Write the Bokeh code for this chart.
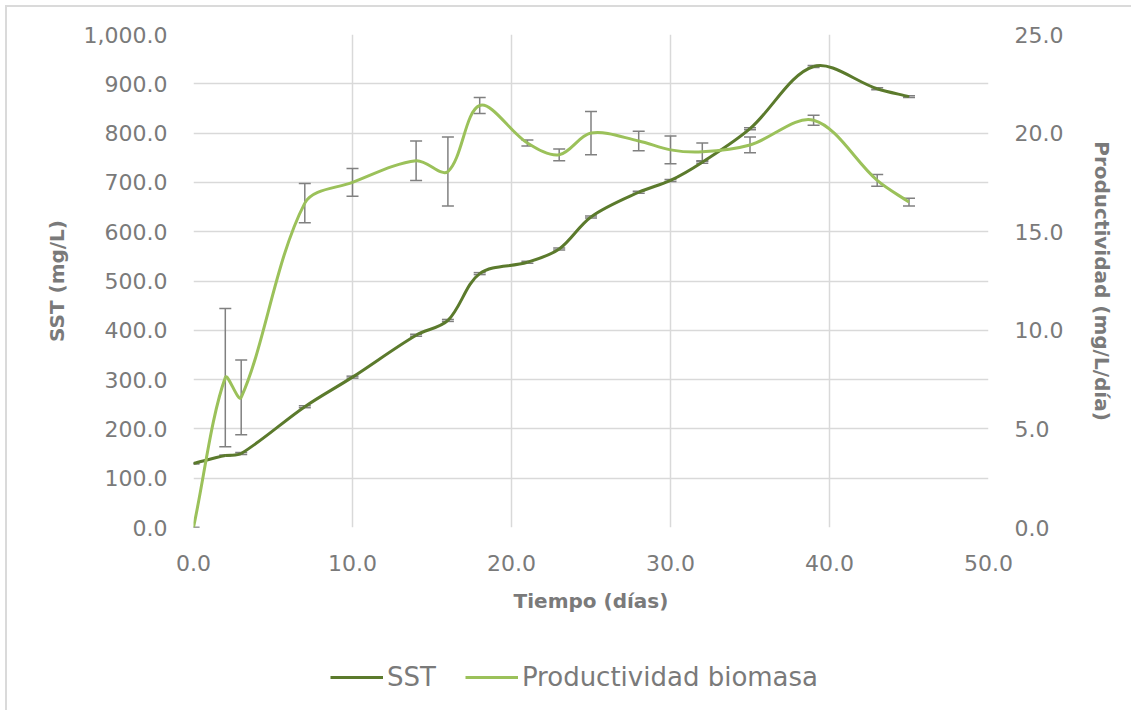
from bokeh.plotting import figure
from bokeh.layouts import column
from bokeh.models import (Range1d, LinearAxis, FixedTicker, NumeralTickFormatter,
                          ColumnDataSource, Whisker, TeeHead, Legend, LegendItem)
from bokeh.embed import file_html
from bokeh.resources import INLINE
import math

# ---- data ----
days = [0, 2, 3, 7, 10, 14, 16, 18, 21, 23, 25, 28, 30, 32, 35, 39, 43, 45]
sst = [130, 146, 150, 245, 305, 390, 420, 515, 538, 565, 630, 680, 704, 741, 809, 935, 890, 874]
sst_err = [1, 1, 2, 2, 2, 2, 2, 2, 2, 2, 2, 2, 2, 2, 2, 2, 2, 2]
prod = [0.0, 7.6, 6.6, 16.45, 17.5, 18.6, 18.05, 21.4, 19.5, 18.9, 20.0, 19.6, 19.15, 19.05, 19.4, 20.65, 17.6, 16.5]
prod_err = [0.0, 3.5, 1.9, 1.0, 0.7, 1.0, 1.75, 0.4, 0.15, 0.3, 1.1, 0.5, 0.7, 0.45, 0.4, 0.25, 0.3, 0.2]
series_names = ["SST", "Productividad biomasa"]

x_ticks = [0, 10, 20, 30, 40, 50]
y_ticks = [0, 100, 200, 300, 400, 500, 600, 700, 800, 900, 1000]
y2_ticks = [0, 5, 10, 15, 20, 25]

DARK = "#5b7a2c"
LIGHT = "#9bc15a"
TXT = "#7a7a7a"
GRID = "#d9d9d9"
ERR = "#808080"
FONT = "DejaVu Sans"

OFF = 7                     # chart border offset (5px margin + 2px border)
W = 1124
H1, H2 = 633, 70
FL, FR, FT, FB = 193 - OFF, 988 - OFF, 34 - OFF, 527 - OFF   # frame edges in figure px


def smooth(xs, ys, ymax):
    """Excel-like smoothed line: chord-length scaled cubic Bezier through the points."""
    kx = (FR - FL) / 50.0
    ky = (FB - FT) / ymax
    n = len(xs)
    P = [(x * kx, y * ky) for x, y in zip(xs, ys)]

    def dist(a, b):
        return math.hypot(P[a][0] - P[b][0], P[a][1] - P[b][1]) or 1e-9

    def tangent(i):
        a = max(i - 1, 0)
        b = min(i + 1, n - 1)
        d = dist(a, i) + dist(i, b)
        return ((P[b][0] - P[a][0]) / d, (P[b][1] - P[a][1]) / d)

    out = dict(x0=[], y0=[], x1=[], y1=[], cx0=[], cy0=[], cx1=[], cy1=[])
    for i in range(n - 1):
        seg = dist(i, i + 1)
        t0 = tangent(i)
        t1 = tangent(i + 1)
        out["x0"].append(xs[i]); out["y0"].append(ys[i])
        out["x1"].append(xs[i + 1]); out["y1"].append(ys[i + 1])
        out["cx0"].append((P[i][0] + t0[0] * seg / 3) / kx)
        out["cy0"].append((P[i][1] + t0[1] * seg / 3) / ky)
        out["cx1"].append((P[i + 1][0] - t1[0] * seg / 3) / kx)
        out["cy1"].append((P[i + 1][1] - t1[1] * seg / 3) / ky)
    return ColumnDataSource(out)


p = figure(width=W, height=H1, output_backend="svg", toolbar_location=None,
           x_range=Range1d(0, 50), y_range=Range1d(0, 1000),
           min_border_left=FL, min_border_right=W - FR, min_border_top=FT, min_border_bottom=H1 - FB)
p.extra_y_ranges = {"prod": Range1d(0, 25)}
p.outline_line_color = None
p.background_fill_color = "white"
p.border_fill_color = "white"

p.xgrid.ticker = FixedTicker(ticks=x_ticks)
p.ygrid.ticker = FixedTicker(ticks=y_ticks)
for g in (p.xgrid, p.ygrid):
    g.grid_line_color = GRID
    g.grid_line_width = 1.5


def style_axis(ax, ticks, fmt, label):
    ax.ticker = FixedTicker(ticks=ticks)
    ax.formatter = NumeralTickFormatter(format=fmt)
    ax.axis_line_color = None
    ax.major_tick_line_color = None
    ax.minor_tick_line_color = None
    ax.major_tick_out = 0
    ax.major_tick_in = 0
    ax.minor_tick_out = 0
    ax.minor_tick_in = 0
    ax.major_label_text_font = FONT
    ax.major_label_text_font_size = "22px"
    ax.major_label_text_color = TXT
    ax.axis_label = label
    ax.axis_label_text_font = FONT
    ax.axis_label_text_font_size = "20px"
    ax.axis_label_text_font_style = "bold"
    ax.axis_label_text_color = TXT


style_axis(p.xaxis[0], x_ticks, "0.0", "Tiempo (días)")
p.xaxis[0].major_label_standoff = 27
p.xaxis[0].axis_label_standoff = 15
style_axis(p.yaxis[0], y_ticks, "0,0.0", "SST (mg/L)")
p.yaxis[0].major_label_standoff = 26
p.yaxis[0].axis_label_standoff = 12

y2 = LinearAxis(y_range_name="prod")
style_axis(y2, y2_ticks, "0.0", "Productividad (mg/L/día)")
y2.major_label_standoff = 26
y2.axis_label_standoff = 24
p.add_layout(y2, "right")

# smoothed lines
p.bezier(x0="x0", y0="y0", x1="x1", y1="y1", cx0="cx0", cy0="cy0", cx1="cx1", cy1="cy1",
         source=smooth(days, sst, 1000), line_color=DARK, line_width=3)
p.bezier(x0="x0", y0="y0", x1="x1", y1="y1", cx0="cx0", cy0="cy0", cx1="cx1", cy1="cy1",
         source=smooth(days, prod, 25), line_color=LIGHT, line_width=3, y_range_name="prod")

# error bars
src_sst = ColumnDataSource(dict(x=days,
                                lo=[v - e for v, e in zip(sst, sst_err)],
                                hi=[v + e for v, e in zip(sst, sst_err)]))
src_prod = ColumnDataSource(dict(x=days,
                                 lo=[v - e for v, e in zip(prod, prod_err)],
                                 hi=[v + e for v, e in zip(prod, prod_err)]))
for src, rng in ((src_sst, "default"), (src_prod, "prod")):
    w = Whisker(source=src, base="x", lower="lo", upper="hi", dimension="height",
                y_range_name=rng, line_color=ERR, line_width=1.5,
                upper_head=TeeHead(size=12, line_color=ERR, line_width=1.5),
                lower_head=TeeHead(size=12, line_color=ERR, line_width=1.5))
    p.add_layout(w)

# ---- legend strip (separate figure below the chart) ----
q = figure(width=W, height=H2, output_backend="svg", toolbar_location=None,
           x_range=Range1d(-2, -1), y_range=Range1d(-2, -1),
           min_border_left=0, min_border_right=0, min_border_top=0, min_border_bottom=0)
q.axis.visible = False
q.grid.visible = False
q.outline_line_color = None
q.border_fill_color = "white"
q.background_fill_color = "white"
# legend proxies: the same series, lying outside this strip's (empty) view
l_sst = q.line(x=days, y=sst, line_color=DARK, line_width=3)
l_prod = q.line(x=days, y=prod, line_color=LIGHT, line_width=3)
legend = Legend(items=[LegendItem(label=series_names[0], renderers=[l_sst]),
                       LegendItem(label=series_names[1], renderers=[l_prod])],
                location=(137, 18), orientation="horizontal",
                glyph_width=53, glyph_height=24, label_height=24, label_standoff=4,
                spacing=29, padding=0, margin=0,
                label_text_font=FONT, label_text_font_size="26px", label_text_color=TXT,
                border_line_color=None, background_fill_alpha=0)
q.add_layout(legend, "center")

layout = column(p, q, spacing=0,
                styles={"margin-left": "5px", "margin-top": "5px",
                        "border-left": "2px solid #dadada", "border-top": "2px solid #dadada"})
open("out.html", "w").write(file_html(layout, INLINE))
